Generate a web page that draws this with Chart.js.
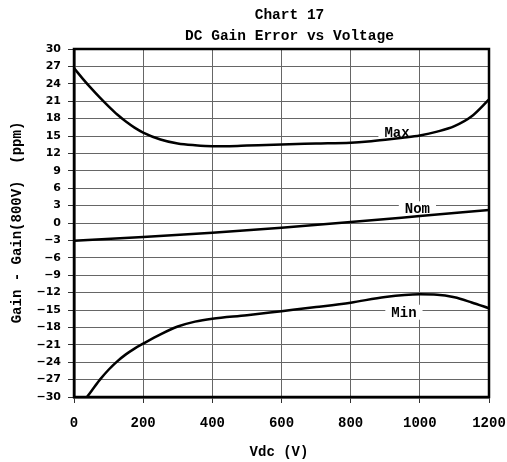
<!DOCTYPE html>
<html><head><meta charset="utf-8">
<script src="https://cdn.jsdelivr.net/npm/chart.js@4/dist/chart.umd.min.js"></script>
<style>html,body{margin:0;padding:0;background:#fff}</style>
</head><body>
<canvas id="c" width="507" height="462"></canvas>
<script>
// ---- data ----
const maxVolts = [0, 25, 50, 75, 100, 125, 150, 175, 200, 250, 300, 350, 400, 450, 500, 600, 700, 800, 850, 900, 950, 1000, 1050, 1100, 1150, 1200];
const maxGain  = [26.7, 24.9, 23.2, 21.6, 20.1, 18.7, 17.5, 16.45, 15.6, 14.4, 13.7, 13.4, 13.25, 13.25, 13.35, 13.55, 13.7, 13.85, 14.05, 14.35, 14.7, 15.1, 15.75, 16.7, 18.4, 21.3];

const nomVolts = [0, 200, 400, 600, 800, 1000, 1200];
const nomGain  = [-3.05, -2.4, -1.67, -0.8, 0.17, 1.2, 2.24];

const minVolts = [0, 25, 50, 75, 100, 125, 150, 175, 200, 250, 300, 350, 400, 500, 600, 700, 800, 900, 1000, 1050, 1100, 1150, 1200];
const minGain  = [-33, -31, -29, -27, -25.3, -23.85, -22.65, -21.65, -20.8, -19.2, -17.85, -17.0, -16.5, -15.9, -15.2, -14.5, -13.74, -12.75, -12.3, -12.35, -12.8, -13.7, -14.7];

const seriesNames = ['Max', 'Nom', 'Min'];
const chartTitle = ['Chart 17', 'DC Gain Error vs Voltage'];
const xTitle = 'Vdc (V)';
const yTitle = 'Gain - Gain(800V)  (ppm)';

const toPts = (xs, ys) => xs.map((x, i) => ({x: x, y: ys[i]}));

const MONO = '"Liberation Mono", "Courier New", monospace';

const lineStyle = {borderColor: '#000', borderWidth: 2.5, pointRadius: 0, fill: false, cubicInterpolationMode: 'monotone'};

// label anchors in data coordinates
const labelPlugin = {
  id: 'curveLabels',
  beforeDatasetsDraw(chart) {
    const {ctx, scales: {x, y}} = chart;
    const anchors = [[934, 14.83], [993, 1.67], [954, -16.16]];
    ctx.save();
    ctx.font = 'bold 14px ' + MONO;
    ctx.textAlign = 'center';
    ctx.textBaseline = 'alphabetic';
    seriesNames.forEach((name, i) => {
      const px = x.getPixelForValue(anchors[i][0]);
      const py = y.getPixelForValue(anchors[i][1]);
      const w = ctx.measureText(name).width + 12;
      ctx.fillStyle = '#fff';
      ctx.fillRect(px - w / 2, py - 12, w, 15);
      ctx.fillStyle = '#000';
      ctx.fillText(name, px, py);
    });
    ctx.restore();
  },
  afterDatasetsDraw(chart) {
    const {ctx, chartArea: a} = chart;
    ctx.save();
    ctx.strokeStyle = '#000';
    ctx.lineWidth = 2.5;
    ctx.strokeRect(a.left, a.top, a.right - a.left, a.bottom - a.top);
    ctx.restore();
  },
  afterDraw(chart) {
    const {ctx} = chart;
    ctx.save();
    ctx.fillStyle = '#000';
    ctx.font = 'bold 14.5px ' + MONO;
    ctx.textAlign = 'center';
    ctx.textBaseline = 'alphabetic';
    ctx.fillText(chartTitle[0], 289.5, 18.5);
    ctx.fillText(chartTitle[1], 289.5, 39.5);
    ctx.font = 'bold 14px ' + MONO;
    ctx.fillText(xTitle, 279, 455.5);
    ctx.translate(21, 222.5);
    ctx.rotate(-Math.PI / 2);
    ctx.fillText(yTitle, 0, 0);
    ctx.restore();
  }
};

new Chart(document.getElementById('c'), {
  type: 'line',
  data: {
    datasets: [
      Object.assign({label: seriesNames[0], data: toPts(maxVolts, maxGain)}, lineStyle),
      Object.assign({label: seriesNames[1], data: toPts(nomVolts, nomGain)}, lineStyle),
      Object.assign({label: seriesNames[2], data: toPts(minVolts, minGain)}, lineStyle)
    ]
  },
  options: {
    responsive: false,
    animation: false,
    layout: {padding: {top: 49, right: 18, left: 0, bottom: 0}},
    plugins: {legend: {display: false}, tooltip: {enabled: false}, title: {display: false}},
    scales: {
      x: {
        type: 'linear', min: 0, max: 1200,
        ticks: {stepSize: 200, color: '#000', padding: 12, maxRotation: 0,
                callback: v => String(v),
                font: {family: MONO, weight: 'bold', size: 14}},
        grid: {color: '#666', lineWidth: 1, tickLength: 6, tickColor: '#333'},
        border: {color: '#000', width: 2.5},
        afterFit(s) { s.height = 65; s.paddingLeft = 0; s.paddingRight = 0; }
      },
      y: {
        type: 'linear', min: -30, max: 30,
        ticks: {stepSize: 3, color: '#000', padding: 7,
                callback: v => String(v).replace('-', '\u2212'),
                font: {family: '"DejaVu Sans", Verdana, sans-serif', weight: 'bold', size: 11}},
        grid: {color: '#666', lineWidth: 1, tickLength: 6, tickColor: '#333'},
        border: {color: '#000', width: 2.5},
        afterFit(s) { s.width = 74; s.paddingTop = 0; s.paddingBottom = 0; }
      }
    }
  },
  plugins: [labelPlugin]
});
</script>
</body></html>
